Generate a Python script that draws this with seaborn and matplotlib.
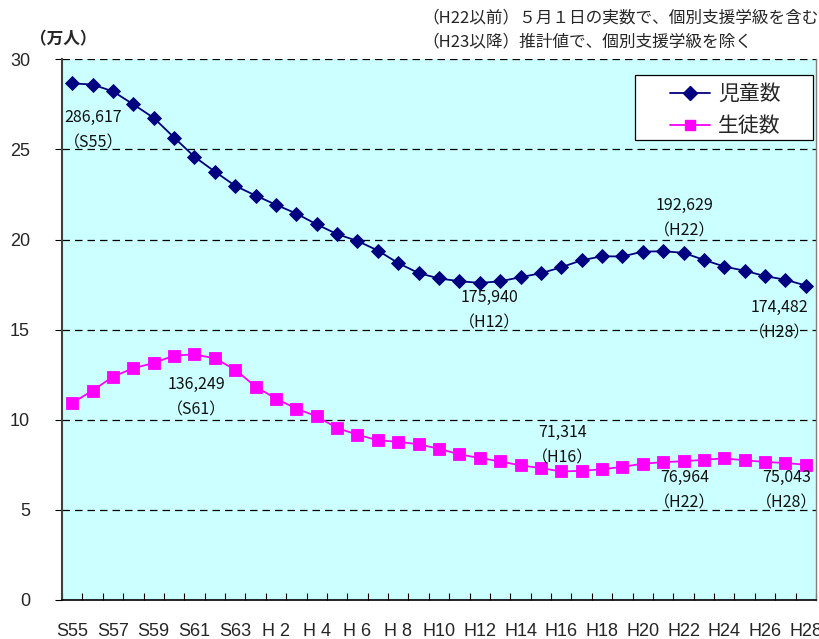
import numpy as np
import pandas as pd
import matplotlib
matplotlib.use("Agg")
import matplotlib.pyplot as plt
import seaborn as sns
from matplotlib.patches import Rectangle
from matplotlib.lines import Line2D
from matplotlib.ticker import FixedLocator, NullFormatter

# ---------------- data ----------------
categories = (["S%d" % y for y in range(55, 64)] +
              ["H %d" % y if y < 10 else "H%d" % y for y in range(1, 29)])
children = [28.6617, 28.60, 28.22, 27.50, 26.75, 25.66, 24.59, 23.77, 22.98, 22.44,
            21.93, 21.44, 20.84, 20.30, 19.92, 19.39, 18.69, 18.14, 17.84, 17.69,
            17.5940, 17.68, 17.91, 18.13, 18.46, 18.85, 19.07, 19.06, 19.33, 19.35,
            19.2629, 18.87, 18.50, 18.27, 17.97, 17.77, 17.4482]
students = [10.93, 11.62, 12.39, 12.86, 13.15, 13.56, 13.6249, 13.41, 12.78, 11.84,
            11.17, 10.62, 10.19, 9.54, 9.17, 8.86, 8.78, 8.64, 8.39, 8.08,
            7.88, 7.69, 7.47, 7.32, 7.1314, 7.17, 7.25, 7.39, 7.56, 7.65,
            7.6964, 7.78, 7.86, 7.75, 7.66, 7.60, 7.5043]
series_names = ["児童数", "生徒数"]
tick_labels = categories[::2]
yticks = [0, 5, 10, 15, 20, 25, 30]

# annotations: (series, category, text, offset in pixels)
notes = [
    ("児童数", "S55", "286,617\n（S55）", (21, -47)),
    ("児童数", "H12", "175,940\n（H12）", (10, -27)),
    ("児童数", "H22", "192,629\n（H22）", (1, 35)),
    ("児童数", "H28", "174,482\n（H28）", (-26, -35)),
    ("生徒数", "S61", "136,249\n（S61）", (2, -43)),
    ("生徒数", "H16", "71,314\n（H16）", (1, 26)),
    ("生徒数", "H22", "76,964\n（H22）", (1, -29)),
    ("生徒数", "H28", "75,043\n（H28）", (-19, -25)),
]

# ---------------- fonts ----------------
sns.set_style("white")
JP = "Noto Sans CJK JP"
LAT = "Liberation Sans"
plt.rcParams["font.family"] = [JP, "DejaVu Sans"]

df = pd.DataFrame({
    "pos": list(range(len(categories))) * 2,
    "val": children + students,
    "series": [series_names[0]] * len(categories) + [series_names[1]] * len(categories),
})

fig = plt.figure(figsize=(8.19, 6.39), dpi=100)
ax = fig.add_axes([62 / 819, 1 - 600 / 639, (816 - 62) / 819, (600 - 59.3) / 639])
ax.set_facecolor("#CCFFFF")

palette = {"児童数": "#000080", "生徒数": "#FF00FF"}
markers = {"児童数": "D", "生徒数": "s"}
sns.lineplot(data=df, x="pos", y="val", hue="series", style="series",
             palette=palette, markers=markers, dashes=False, markersize=8,
             markeredgewidth=0.6, linewidth=1.3, ax=ax, legend=False)
for ln in ax.lines:
    ln.set_markeredgecolor(ln.get_color())
ax.lines[0].set_markersize(7.5)

ax.set_xlim(-0.5, len(categories) - 0.5)
ax.set_ylim(0, 30)
ax.set_xlabel("")
ax.set_ylabel("")

# grid
for y in yticks[1:]:
    ax.axhline(y, color="black", lw=0.9, ls=(0, (6, 4)), zorder=0.5)

# ticks
ax.set_xticks(list(range(0, len(categories), 2)))
ax.set_xticklabels(tick_labels, fontfamily=LAT, fontsize=13)
ax.xaxis.set_minor_locator(FixedLocator(np.arange(-0.5, len(categories), 1.0)))
ax.xaxis.set_minor_formatter(NullFormatter())
ax.tick_params(axis="x", which="major", length=0, pad=16.5)
ax.tick_params(axis="x", which="minor", direction="in", length=5, width=0.8, color="black", bottom=True)
ax.set_yticks(yticks)
ax.set_yticklabels([str(v) for v in yticks], fontfamily=LAT, fontsize=13)
ax.tick_params(axis="y", direction="out", length=5, width=0.8, color="black", pad=18, left=True)
for lbl in ax.get_yticklabels():
    lbl.set_va("center_baseline")

ax.spines["top"].set_visible(False)
ax.spines["right"].set_visible(True)
ax.spines["right"].set_color("#808080")
ax.spines["right"].set_linewidth(1.0)
ax.spines["left"].set_color("#404040")
ax.spines["left"].set_linewidth(1.5)
ax.spines["bottom"].set_color("black")
ax.spines["bottom"].set_linewidth(1.2)

# annotations
lookup = {s: dict(zip(categories, v)) for s, v in zip(series_names, [children, students])}
for s, c, txt, off in notes:
    ax.annotate(txt, xy=(categories.index(c), lookup[s][c]), xytext=off,
                textcoords="offset pixels", ha="center", va="center",
                fontsize=11.5, linespacing=1.65, color="#111111", zorder=5)

# legend
handles = [Line2D([], [], color=palette[n], marker=markers[n], markersize=7 if n == "児童数" else 7.5,
                  markeredgecolor=palette[n], lw=1.3) for n in series_names]
leg = ax.legend(handles, series_names, loc="upper left",
                bbox_to_anchor=((670 - 61) / 755, (600 - 83) / 540.7),
                frameon=False, fontsize=15, handlelength=1.9, handletextpad=0.4,
                labelspacing=0.5, borderpad=0, borderaxespad=0)
ax.add_patch(Rectangle(((635 - 61) / 755, (600 - 140) / 540.7), (813 - 635) / 755, 65 / 540.7,
                       transform=ax.transAxes, facecolor="white", edgecolor="black",
                       lw=0.9, zorder=4))
leg.set_zorder(6)

# header texts
fig.text(30 / 819, 1 - 39 / 639, "（万人）", fontsize=12, fontweight="bold", va="center", ha="left")
fig.text(422 / 819, 1 - 18 / 639, "（H22以前）５月１日の実数で、個別支援学級を含む",
         fontsize=12, va="center", ha="left")
fig.text(422 / 819, 1 - 42 / 639, "（H23以降）推計値で、個別支援学級を除く",
         fontsize=12, va="center", ha="left")

fig.savefig("out.png", dpi=100, facecolor="white")
